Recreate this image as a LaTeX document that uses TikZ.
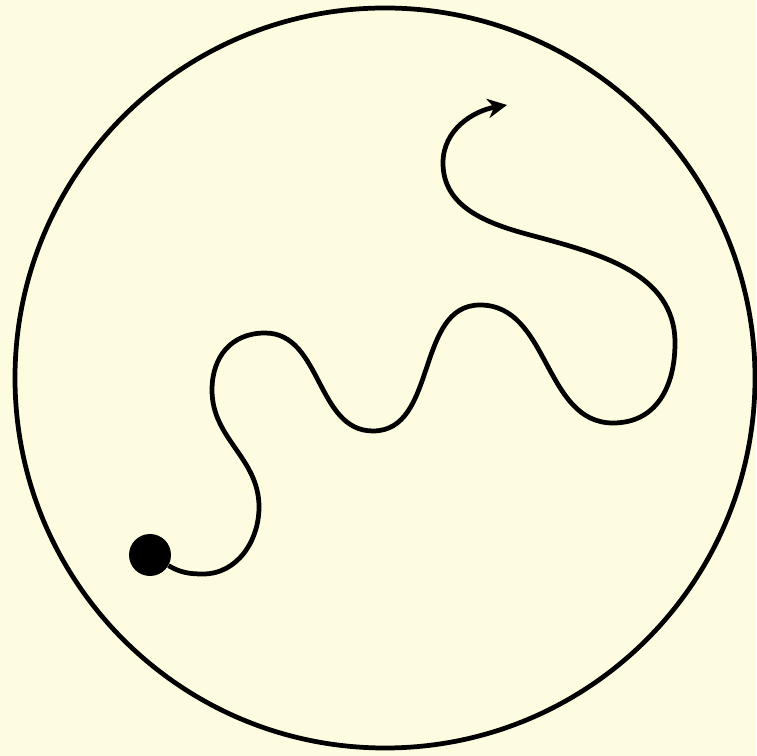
\documentclass[tikz,border=0pt]{standalone}
\usetikzlibrary{arrows.meta}
\definecolor{bgyellow}{RGB}{254,252,224}

\begin{document}
\begin{tikzpicture}[
    x=0.02cm, y=0.02cm,
    rim/.style={draw, line width=2.7pt},
    dot/.style={circle, fill=black, inner sep=0pt, minimum size=0.84cm},
    walk/.style={line width=2.7pt, -{Stealth[length=11pt, width=11pt, inset=3.5pt]}},
]

    %==================== BACKGROUND ====================
    \fill[bgyellow] (0,0) rectangle (756,756);
    \useasboundingbox (0,0) rectangle (756,756);

    %==================== BOUNDARY ====================
    \draw[rim] (385,378) circle (370);

    %==================== START POINT ====================
    \node[dot] (start) at (150,201) {};

    %==================== WAYPOINTS ====================
    \coordinate (b1) at (203,182);
    \coordinate (r1) at (259,249);
    \coordinate (l1) at (212,366);
    \coordinate (t1) at (265,423);
    \coordinate (m1) at (373,325);
    \coordinate (t2) at (480,451);
    \coordinate (m2) at (613,333);
    \coordinate (r2) at (675,413);
    \coordinate (m3) at (530,521);
    \coordinate (h1) at (443,593);
    \coordinate (stop) at (507,651);

    %==================== PATH ====================
    \draw[walk] (start) to[out=-30, in=180] (b1)
        to[out=0, in=-90] (r1)
        to[out=90, in=-90] (l1)
        to[out=90, in=180, looseness=1.1] (t1)
        to[out=0, in=180] (m1)
        to[out=0, in=180] (t2)
        to[out=0, in=180] (m2)
        to[out=0, in=-90, looseness=1.1] (r2)
        to[out=90, in=-15] (m3)
        to[out=165, in=-90] (h1)
        to[out=90, in=190] (stop);

\end{tikzpicture}
\end{document}
